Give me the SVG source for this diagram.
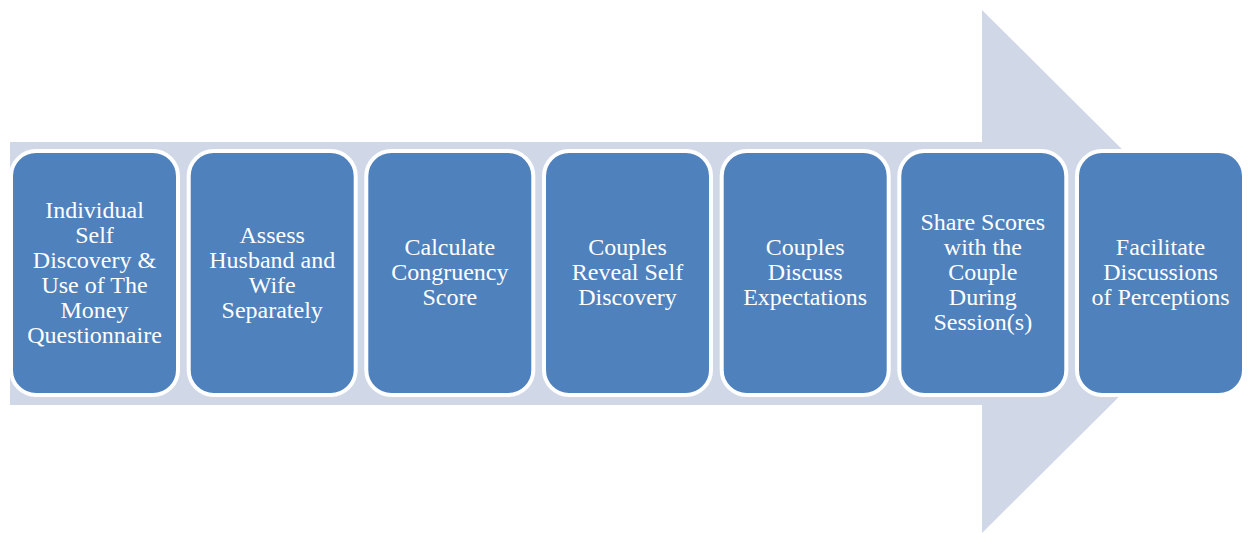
<svg xmlns="http://www.w3.org/2000/svg" width="1250" height="533" viewBox="0 0 1250 533">
  <style>
    .step { fill: #4F81BD; stroke: #FFFFFF; stroke-width: 4; }
    .label { font-family: "Liberation Serif", "Times New Roman", serif; font-size: 24px; fill: #FFFFFF; text-anchor: middle; }
  </style>
  <rect width="1250" height="533" fill="#FFFFFF"/>
  <!-- background process arrow -->
  <g id="arrow">
    <polygon points="10,142 982,142 982,10 1245,271.5 982,533 982,405 10,405" fill="#D0D8E8"/>
  </g>
  <g id="step1">
    <rect class="step" x="11" y="151" width="167" height="244" rx="25"/>
    <text class="label"><tspan x="94.5" y="217.5">Individual</tspan><tspan x="94.5" y="242.5">Self</tspan><tspan x="94.5" y="267.5">Discovery &amp;</tspan><tspan x="94.5" y="292.5">Use of The</tspan><tspan x="94.5" y="317.5">Money</tspan><tspan x="94.5" y="342.5">Questionnaire</tspan></text>
  </g>
  <g id="step2">
    <rect class="step" x="188.7" y="151" width="167" height="244" rx="25"/>
    <text class="label"><tspan x="272.2" y="242.5">Assess</tspan><tspan x="272.2" y="267.5">Husband and</tspan><tspan x="272.2" y="292.5">Wife</tspan><tspan x="272.2" y="317.5">Separately</tspan></text>
  </g>
  <g id="step3">
    <rect class="step" x="366.3" y="151" width="167" height="244" rx="25"/>
    <text class="label"><tspan x="449.8" y="255">Calculate</tspan><tspan x="449.8" y="280">Congruency</tspan><tspan x="449.8" y="305">Score</tspan></text>
  </g>
  <g id="step4">
    <rect class="step" x="544" y="151" width="167" height="244" rx="25"/>
    <text class="label"><tspan x="627.5" y="255">Couples</tspan><tspan x="627.5" y="280">Reveal Self</tspan><tspan x="627.5" y="305">Discovery</tspan></text>
  </g>
  <g id="step5">
    <rect class="step" x="721.7" y="151" width="167" height="244" rx="25"/>
    <text class="label"><tspan x="805.2" y="255">Couples</tspan><tspan x="805.2" y="280">Discuss</tspan><tspan x="805.2" y="305">Expectations</tspan></text>
  </g>
  <g id="step6">
    <rect class="step" x="899.3" y="151" width="167" height="244" rx="25"/>
    <text class="label"><tspan x="982.8" y="230">Share Scores</tspan><tspan x="982.8" y="255">with the</tspan><tspan x="982.8" y="280">Couple</tspan><tspan x="982.8" y="305">During</tspan><tspan x="982.8" y="330">Session(s)</tspan></text>
  </g>
  <g id="step7">
    <rect class="step" x="1077" y="151" width="167" height="244" rx="25"/>
    <text class="label"><tspan x="1160.5" y="255">Facilitate</tspan><tspan x="1160.5" y="280">Discussions</tspan><tspan x="1160.5" y="305">of Perceptions</tspan></text>
  </g>
</svg>
